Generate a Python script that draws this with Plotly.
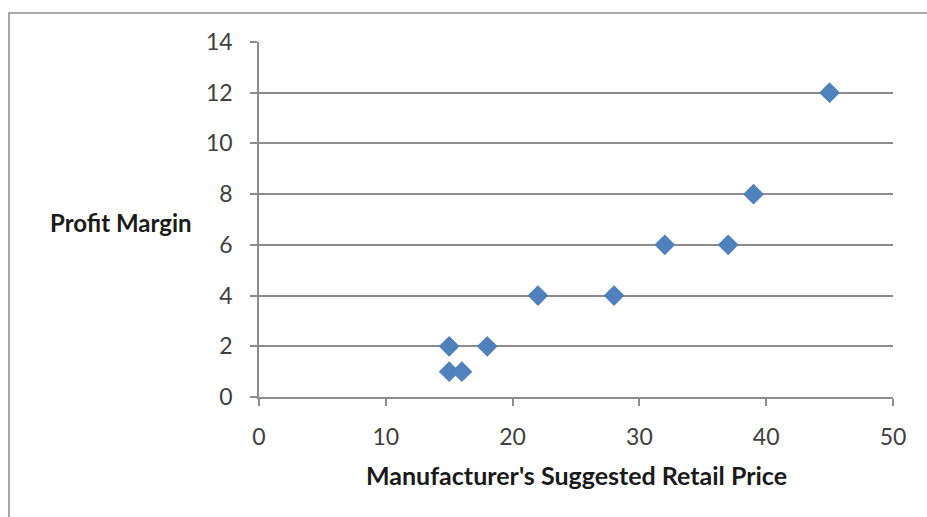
import plotly.graph_objects as go

# Suggested retail price vs. profit margin
msrp = [15, 18, 15, 16, 22, 28, 32, 37, 39, 45]
profit_margin = [2, 2, 1, 1, 4, 4, 6, 6, 8, 12]

x_ticks = [0, 10, 20, 30, 40, 50]
y_ticks = [0, 2, 4, 6, 8, 10, 12, 14]

W, H = 927, 517
L, R, T, B = 259, 34, 42, 120
pw, ph = W - L - R, H - T - B

def px_x(p):
    return (p - L) / pw

def px_y(p):
    return (H - B - p) / ph

fig = go.Figure(
    go.Scatter(
        x=msrp,
        y=profit_margin,
        mode="markers",
        marker=dict(symbol="diamond", size=16, color="#4F81BD",
                    line=dict(width=0)),
        cliponaxis=False,
    )
)

font_family = "Lato, 'Open Sans', sans-serif"
axis_gray = "#8C8C8C"
tick_font = dict(size=23, color="#404040", family=font_family)

fig.update_layout(
    width=W,
    height=H,
    margin=dict(l=L, r=R, t=T, b=B),
    paper_bgcolor="white",
    plot_bgcolor="white",
    showlegend=False,
    font=dict(family=font_family, color="#404040", size=23),
    xaxis=dict(
        range=[0, 50],
        tickvals=x_ticks,
        showgrid=False,
        zeroline=False,
        showline=True,
        linecolor=axis_gray,
        linewidth=1.5,
        ticks="outside",
        ticklen=7,
        tickcolor=axis_gray,
        tickwidth=1.5,
        tickfont=tick_font,
        ticklabelstandoff=12,
        fixedrange=True,
    ),
    yaxis=dict(
        range=[0, 14],
        tickvals=y_ticks,
        showgrid=True,
        gridcolor=axis_gray,
        gridwidth=1.5,
        zeroline=False,
        showline=True,
        linecolor=axis_gray,
        linewidth=1.5,
        ticks="outside",
        ticklen=7,
        tickcolor=axis_gray,
        tickwidth=1.5,
        tickfont=tick_font,
        ticklabelstandoff=13,
        fixedrange=True,
    ),
    annotations=[
        dict(
            text="<b>Profit Margin</b>",
            xref="paper", yref="paper",
            x=px_x(194), y=px_y(222),
            xanchor="right", yanchor="middle",
            showarrow=False,
            font=dict(size=24, color="#1a1a1a", family=font_family),
        ),
        dict(
            text="<b>Manufacturer's Suggested Retail Price</b>",
            xref="paper", yref="paper",
            x=px_x(576), y=px_y(475),
            xanchor="center", yanchor="middle",
            showarrow=False,
            font=dict(size=25, color="#1a1a1a", family=font_family),
        ),
    ],
    shapes=[
        dict(
            type="rect",
            xref="paper", yref="paper",
            x0=px_x(9), x1=px_x(940),
            y0=px_y(530), y1=px_y(13),
            line=dict(color=axis_gray, width=1.5),
            fillcolor="rgba(0,0,0,0)",
            layer="below",
        )
    ],
)

fig.write_html("out.html")
